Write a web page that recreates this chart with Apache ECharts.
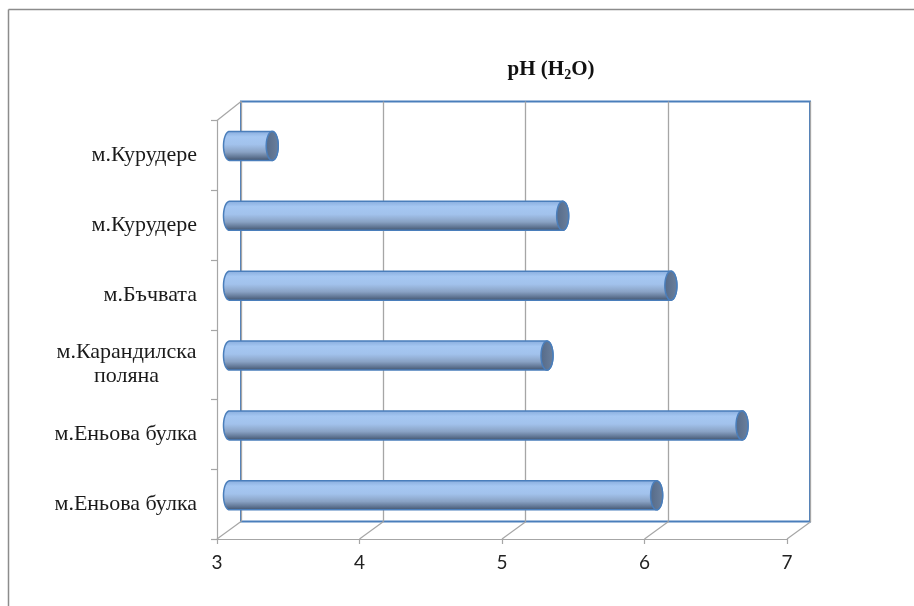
<!DOCTYPE html>
<html>
<head>
<meta charset="utf-8">
<script src="https://cdn.jsdelivr.net/npm/echarts@6/dist/echarts.min.js"></script>
<style>html,body{margin:0;padding:0;background:#fff;}#c{width:914px;height:606px;}</style>
</head>
<body>
<div id="c"></div>
<script>
var categories = ['м.Курудере', 'м.Курудере', 'м.Бъчвата', 'м.Карандилска\nполяна', 'м.Еньова булка', 'м.Еньова булка'];
var phValues = [3.3, 5.34, 6.1, 5.23, 6.6, 6.0];
var xTicks = [3, 4, 5, 6, 7];
var xMin = 3, xMax = 7, xStep = 1;

var chart = echarts.init(document.getElementById('c'), null, {renderer: 'canvas'});

var BLUE = '#4a7ebb';
var GRAY = '#a6a6a6';

function ellipsePts(cx, cy, rx, ry, a0, a1, n) {
  var pts = [];
  for (var i = 0; i <= n; i++) {
    var a = a0 + (a1 - a0) * i / n;
    pts.push([cx + rx * Math.cos(a), cy + ry * Math.sin(a)]);
  }
  return pts;
}

function renderBar(params, api) {
  var idx = api.value(0), v = api.value(1);
  var s = api.coord([xMin, idx]);
  var e = api.coord([v, idx]);
  var band = api.size([0, 1])[1];
  var h = band * 0.415, ry = h / 2, rx = 6;
  var cy = s[1], x0 = s[0], x1 = e[0];
  var body = [[x0, cy - ry], [x1, cy - ry]]
    .concat(ellipsePts(x1, cy, rx, ry, -Math.PI / 2, Math.PI / 2, 24))
    .concat([[x0, cy + ry]])
    .concat(ellipsePts(x0, cy, rx, ry, Math.PI / 2, Math.PI * 1.5, 24));
  var cap = ellipsePts(x1, cy, rx, ry, 0, Math.PI * 2, 48);
  return {
    type: 'group',
    children: [
      {
        type: 'polygon',
        shape: {points: body},
        style: {
          fill: new echarts.graphic.LinearGradient(0, 0, 0, 1, [
            {offset: 0, color: '#86aadb'},
            {offset: 0.2, color: '#a5c7f2'},
            {offset: 0.45, color: '#a2c2ec'},
            {offset: 0.7, color: '#89a2c4'},
            {offset: 0.88, color: '#5d7290'},
            {offset: 1, color: '#3d4e66'}
          ]),
          stroke: BLUE, lineWidth: 1.5
        }
      },
      {
        type: 'polygon',
        shape: {points: cap},
        style: {
          fill: new echarts.graphic.LinearGradient(0, 0, 1, 0, [
            {offset: 0, color: '#556a88'},
            {offset: 1, color: '#6b809d'}
          ]),
          stroke: BLUE, lineWidth: 1.5
        }
      }
    ]
  };
}

function renderFloor(params, api) {
  var v = api.value(0);
  var p = api.coord([v, 0]);
  var cs = params.coordSys;
  var bottom = cs.y + cs.height;
  var children = [{
    type: 'line',
    shape: {x1: p[0], y1: bottom, x2: p[0] + 24, y2: bottom - 17.5},
    style: {stroke: GRAY, lineWidth: 1.2}
  }];
  if (params.dataIndex === 0) {
    children.push({
      type: 'line',
      shape: {x1: cs.x, y1: cs.y, x2: cs.x + 24, y2: cs.y - 19},
      style: {stroke: GRAY, lineWidth: 1.2}
    });
  }
  return {type: 'group', children: children};
}

var option = {
  backgroundColor: '#ffffff',
  animation: false,
  title: {
    text: '{a|pH (H}{s|2}{a|O)}',
    left: 546, top: 52, textAlign: 'center',
    textStyle: {
      rich: {
        a: {fontFamily: 'Liberation Serif', fontWeight: 'bold', fontSize: 21, color: '#111'},
        s: {fontFamily: 'Liberation Serif', fontWeight: 'bold', fontSize: 14, color: '#111', padding: [11, 0, 0, 0]}
      }
    }
  },
  graphic: [
    {type: 'line', shape: {x1: 8.5, y1: 9.5, x2: 914, y2: 9.5}, style: {stroke: '#8c8c8c', lineWidth: 1.5}, silent: true},
    {type: 'line', shape: {x1: 8.5, y1: 9.5, x2: 8.5, y2: 606}, style: {stroke: '#8c8c8c', lineWidth: 1.5}, silent: true}
  ],
  grid: [
    {left: 241, top: 101.5, width: 569, height: 420, show: true, borderColor: BLUE, borderWidth: 2, backgroundColor: 'transparent'},
    {left: 217, top: 120.5, width: 570, height: 418.5},
    {left: 229.5, top: 111, width: 569.5, height: 419.3}
  ],
  xAxis: [
    {gridIndex: 0, type: 'value', min: xMin, max: xMax, interval: xStep,
     axisLine: {show: false}, axisTick: {show: false}, axisLabel: {show: false},
     splitLine: {show: true, lineStyle: {color: GRAY, width: 1.3}}},
    {gridIndex: 1, type: 'value', min: xMin, max: xMax, interval: xStep,
     axisLine: {show: true, lineStyle: {color: GRAY, width: 1.2}},
     axisTick: {show: true, length: 5, lineStyle: {color: GRAY, width: 1.2}},
     splitLine: {show: false},
     axisLabel: {show: true, margin: 14, fontFamily: 'Lato', fontSize: 19, color: '#222',
       formatter: function (v) { return xTicks.indexOf(v) >= 0 ? String(v) : ''; }}},
    {gridIndex: 2, type: 'value', min: xMin, max: xMax, show: false}
  ],
  yAxis: [
    {gridIndex: 0, type: 'category', data: categories, inverse: true, show: false},
    {gridIndex: 1, type: 'category', data: categories, inverse: true,
     axisLine: {show: true, lineStyle: {color: GRAY, width: 1.2}},
     axisTick: {show: true, length: 6, inside: false, lineStyle: {color: GRAY, width: 1.2}},
     splitLine: {show: false},
     axisLabel: {
       margin: 20, fontFamily: 'Liberation Serif', fontSize: 22, color: '#1a1a1a', lineHeight: 24,
       formatter: function (v) {
         if (v.indexOf('\n') >= 0) return '{c|' + v + '}';
         return v;
       },
       rich: {c: {width: 141, align: 'center', fontFamily: 'Liberation Serif', fontSize: 22, color: '#1a1a1a', lineHeight: 24}}
     }},
    {gridIndex: 2, type: 'category', data: categories, inverse: true, show: false}
  ],
  series: [
    {
      type: 'custom', xAxisIndex: 1, yAxisIndex: 1,
      renderItem: renderFloor,
      data: xTicks.map(function (t) { return [t, 0]; }),
      encode: {x: 0, y: 1},
      silent: true, z: 1
    },
    {
      type: 'custom', xAxisIndex: 2, yAxisIndex: 2,
      renderItem: renderBar,
      data: phValues.map(function (v, i) { return [i, v]; }),
      encode: {x: 1, y: 0},
      z: 5
    }
  ]
};
chart.setOption(option);
</script>
</body>
</html>
